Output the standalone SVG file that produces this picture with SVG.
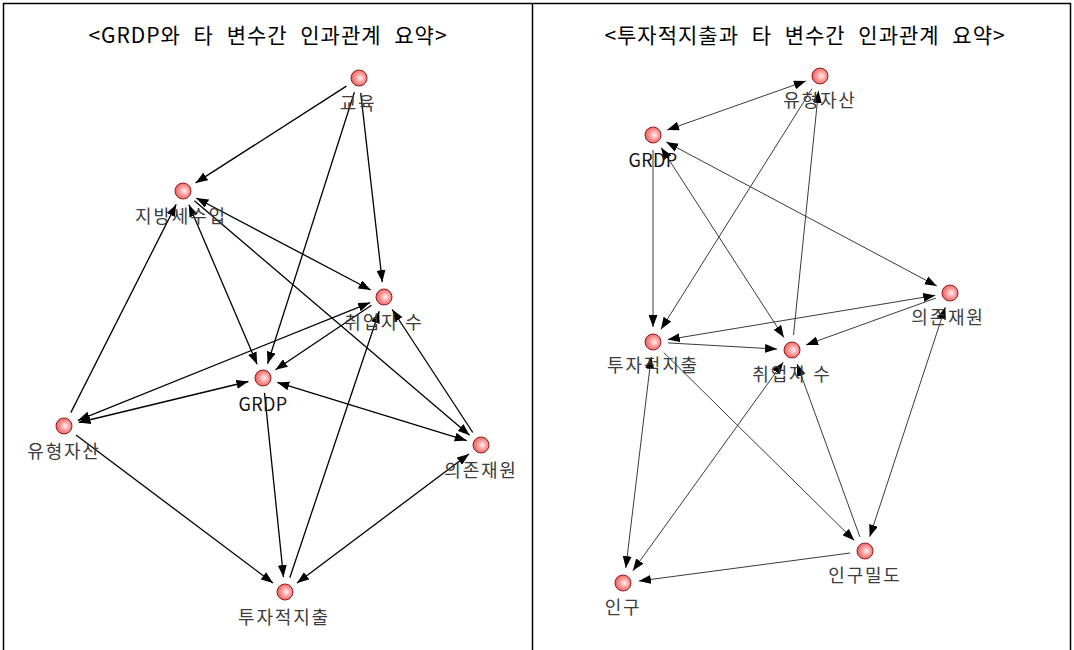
<svg xmlns="http://www.w3.org/2000/svg" width="1074" height="650" viewBox="0 0 1074 650">
<style>
.frame{fill:none;stroke:#000;stroke-width:1.5}
.title{font-family:"Noto Sans CJK KR","Noto Sans",sans-serif;font-size:21px;letter-spacing:1px;word-spacing:7px;fill:#000;text-anchor:middle}
.lbl{font-family:"Noto Sans CJK KR","Noto Sans",sans-serif;font-size:18px;letter-spacing:1.8px;fill:#3c3c3c;text-anchor:middle}
.node{fill:url(#ball);stroke:#9a1c1c;stroke-width:1}
.el{stroke:#000;stroke-width:1.3;fill:none}
.er{stroke:#3a3a3a;stroke-width:1;fill:none}
.a1{marker-end:url(#arr)}
.a2{marker-start:url(#arr);marker-end:url(#arr)}
</style>
<defs>
<radialGradient id="ball" cx="0.55" cy="0.5" r="0.6" fx="0.6" fy="0.5">
<stop offset="0" stop-color="#fff4f4"/>
<stop offset="0.45" stop-color="#ffa0a0"/>
<stop offset="1" stop-color="#e05050"/>
</radialGradient>
<marker id="arr" markerUnits="userSpaceOnUse" markerWidth="12" markerHeight="9" refX="12" refY="4.5" orient="auto-start-reverse">
<path d="M0,0 L12,4.5 L0,9 z" fill="#000"/>
</marker>
</defs>
<rect width="1074" height="650" fill="#fff"/>
<g id="frame">
<rect class="frame" x="3.5" y="3.5" width="1067" height="660"/>
<line class="frame" x1="532.5" y1="3" x2="532.5" y2="650"/>
</g>
<g id="titles">
<text class="title" x="268" y="43">&lt;GRDP와 타 변수간 인과관계 요약&gt;</text>
<text class="title" x="805" y="43">&lt;투자적지출과 타 변수간 인과관계 요약&gt;</text>
</g>
<g id="connectors">
<line class="el a1" x1="346.4" y1="86.1" x2="195.6" y2="182.9"/>
<line class="el a1" x1="354.4" y1="92.3" x2="267.6" y2="363.7"/>
<line class="el a1" x1="360.7" y1="92.9" x2="382.3" y2="282.1"/>
<line class="el a2" x1="188.9" y1="204.8" x2="257.1" y2="364.2"/>
<line class="el a2" x1="196.3" y1="198.0" x2="370.7" y2="290.0"/>
<line class="el a1" x1="194.4" y1="200.7" x2="469.6" y2="435.3"/>
<line class="el a1" x1="371.5" y1="305.3" x2="275.5" y2="369.7"/>
<line class="el a2" x1="77.9" y1="420.4" x2="370.1" y2="302.6"/>
<line class="el a2" x1="78.6" y1="422.5" x2="248.4" y2="381.5"/>
<line class="el a1" x1="70.8" y1="412.6" x2="176.2" y2="204.4"/>
<line class="el a1" x1="76.0" y1="435.0" x2="273.0" y2="583.0"/>
<line class="el a1" x1="264.5" y1="392.9" x2="283.5" y2="577.1"/>
<line class="el a1" x1="289.8" y1="577.8" x2="379.2" y2="311.2"/>
<line class="el a2" x1="466.7" y1="440.6" x2="277.3" y2="382.4"/>
<line class="el a1" x1="472.8" y1="432.5" x2="392.2" y2="309.5"/>
<line class="el a2" x1="297" y1="583" x2="469" y2="454"/>
<line class="er a2" x1="805.9" y1="81.0" x2="667.1" y2="130.0"/>
<line class="er a1" x1="812.0" y1="88.7" x2="661.0" y2="329.3"/>
<line class="er a1" x1="793.5" y1="335.1" x2="818.5" y2="90.9"/>
<line class="er a1" x1="653" y1="150" x2="653" y2="327"/>
<line class="er a2" x1="661.1" y1="147.6" x2="783.9" y2="337.4"/>
<line class="er a2" x1="666.2" y1="142.0" x2="936.8" y2="286.0"/>
<line class="er a2" x1="667.8" y1="339.6" x2="935.2" y2="295.4"/>
<line class="er a1" x1="935.9" y1="298.1" x2="806.1" y2="344.9"/>
<line class="er a1" x1="668.0" y1="342.9" x2="777.0" y2="349.1"/>
<line class="er a1" x1="663.7" y1="352.5" x2="854.3" y2="540.5"/>
<line class="er a2" x1="651.2" y1="356.9" x2="625.8" y2="568.1"/>
<line class="er a2" x1="783.2" y1="362.2" x2="632.8" y2="570.8"/>
<line class="er a1" x1="859.9" y1="536.9" x2="797.1" y2="364.1"/>
<line class="er a2" x1="945.3" y1="307.2" x2="869.7" y2="536.8"/>
<line class="er a1" x1="850.1" y1="553.0" x2="638.9" y2="581.0"/>
</g>
<g id="L-edu"><circle class="node" cx="359" cy="78" r="8"/><text class="lbl" x="358" y="110">교육</text></g>
<g id="L-localtax"><circle class="node" cx="183" cy="191" r="8"/><text class="lbl" x="181" y="223">지방세수입</text></g>
<g id="L-employed"><circle class="node" cx="384" cy="297" r="8"/><text class="lbl" x="384" y="329">취업자 수</text></g>
<g id="L-grdp"><circle class="node" cx="263" cy="378" r="8"/><text class="lbl" x="263" y="411" style="letter-spacing:0.3px;fill:#111">GRDP</text></g>
<g id="L-tangible"><circle class="node" cx="64" cy="426" r="8"/><text class="lbl" x="64" y="458">유형자산</text></g>
<g id="L-dependent"><circle class="node" cx="481" cy="445" r="8"/><text class="lbl" x="481" y="477">의존재원</text></g>
<g id="L-invest"><circle class="node" cx="285" cy="592" r="8"/><text class="lbl" x="284" y="624">투자적지출</text></g>
<g id="R-tangible"><circle class="node" cx="820" cy="76" r="8"/><text class="lbl" x="820" y="107">유형자산</text></g>
<g id="R-grdp"><circle class="node" cx="653" cy="135" r="8"/><text class="lbl" x="653" y="167" style="letter-spacing:0.3px;fill:#111">GRDP</text></g>
<g id="R-dependent"><circle class="node" cx="950" cy="293" r="8"/><text class="lbl" x="948" y="324">의존재원</text></g>
<g id="R-invest"><circle class="node" cx="653" cy="342" r="8"/><text class="lbl" x="653" y="372">투자적지출</text></g>
<g id="R-employed"><circle class="node" cx="792" cy="350" r="8"/><text class="lbl" x="792" y="381">취업자 수</text></g>
<g id="R-density"><circle class="node" cx="865" cy="551" r="8"/><text class="lbl" x="865" y="582">인구밀도</text></g>
<g id="R-pop"><circle class="node" cx="623" cy="583" r="8"/><text class="lbl" x="623" y="614">인구</text></g>
</svg>
